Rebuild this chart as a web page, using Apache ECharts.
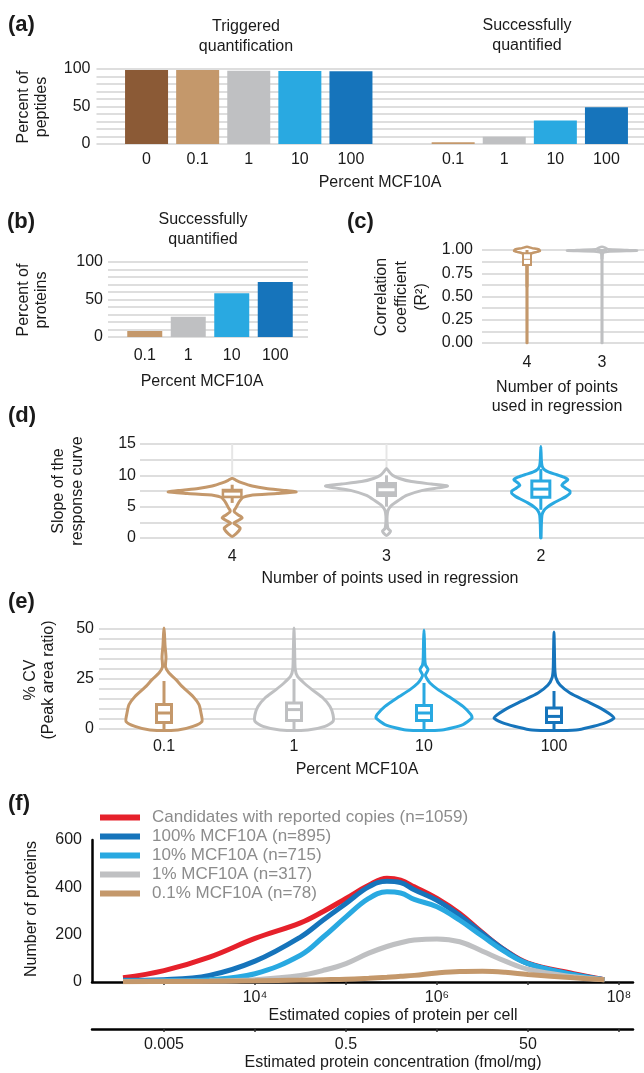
<!DOCTYPE html>
<html><head><meta charset="utf-8">
<script src="https://cdn.jsdelivr.net/npm/echarts@6/dist/echarts.min.js"></script>
<style>html,body{margin:0;padding:0;background:#fff}#c{width:644px;height:1073px}</style>
</head><body><div id="c"></div><script>
// ================= DATA =================
// (a) Percent of peptides
const aCategories = ['0', '0.1', '1', '10', '100', '', '0.1', '1', '10', '100'];
const aValues = [98.7, 98.7, 97.8, 97.3, 96.9, null, 2.2, 9.8, 31.3, 49.1];
// (b) Percent of proteins successfully quantified
const bCategories = ['0.1', '1', '10', '100'];
const bValues = [8.0, 26.9, 58.3, 73.5];
// (c) R^2 violins: [value, density]; boxes: [whiskerLow, q1, median, q3, whiskerHigh]
const cCategories = ['4', '3'];
const cViolin4 = [[0, 0.3], [0.6, 0.3], [0.9, 0.6], [0.95, 2], [0.965, 5], [0.98, 10], [0.99, 13], [1.005, 12], [1.02, 5], [1.035, 0]];
const cViolin3 = [[0, 0.3], [0.9, 0.3], [0.97, 1.2], [0.985, 8], [0.993, 35], [1.0, 25], [1.008, 6], [1.02, 4], [1.035, 0]];
const cBox4 = [0.6, 0.84, 0.9, 0.965, 1.0];
const cBox3 = [0.9, 0.99, 0.995, 1.0, 1.0];
// (d) slope violins
const dCategories = ['4', '3', '2'];
const dViolin4 = [[0.25, 0], [0.7, 4], [1.2, 7], [1.6, 8], [2.0, 5], [2.35, 1.5], [2.8, 6], [3.2, 10], [3.6, 7], [4.1, 2.5], [4.4, 2], [4.9, 4], [5.5, 6], [6.0, 8], [6.5, 11], [6.8, 18], [7.1, 45], [7.35, 64], [7.6, 52], [7.9, 34], [8.3, 20], [8.8, 10], [9.2, 4], [9.55, 0]];
const dViolin3 = [[0.4, 0], [0.8, 3], [1.1, 4], [1.5, 1.5], [2.5, 0.6], [3.5, 0.6], [4.4, 1.5], [5.2, 5], [6.0, 12], [6.8, 20], [7.6, 36], [8.0, 52], [8.3, 61], [8.6, 45], [9.0, 25], [9.5, 13], [10.0, 6], [10.6, 2.5], [11.1, 0]];
const dViolin2 = [[0, 0.2], [2, 0.5], [3.7, 1.2], [4.5, 3.5], [5.0, 7], [5.6, 13], [6.1, 19], [6.6, 25], [7.1, 29], [7.5, 29], [7.9, 25], [8.4, 21], [8.8, 23], [9.3, 27], [9.7, 23], [10.1, 16], [10.5, 8], [10.9, 3.5], [11.5, 1.2], [12.5, 0.5], [14.6, 0]];
const dBox4 = [5.6, 6.6, 7.0, 7.6, 8.5];
const dBox3 = [5.0, 6.8, 7.7, 8.7, 10.0];
const dBox2 = [4.5, 6.5, 7.8, 9.1, 11.0];
// (e) %CV violins
const eCategories = ['0.1', '1', '10', '100'];
const eViolin01 = [[-0.5, 14], [1.3, 29], [3.8, 38], [8, 37], [12.2, 35], [16.3, 29], [21.3, 18], [24.7, 12], [28, 5], [31, 1.5], [36, 2], [42, 1], [48, 0.4], [50.5, 0]];
const eViolin1 = [[-0.5, 14], [1.3, 31], [3.8, 39], [7.2, 39], [11.3, 36], [15.5, 29], [19.7, 18], [23, 10], [26.3, 3.5], [30, 1.2], [40, 0.6], [50.5, 0]];
const eViolin10 = [[-0.5, 18], [2.2, 39], [5.5, 48], [7.2, 47], [11.3, 39], [15.5, 27], [19.7, 14], [23, 6], [25.5, 2.5], [27, 1.5], [29.7, 4], [32, 1.5], [35, 0.8], [45, 0.4], [49.5, 0]];
const eViolin100 = [[-0.5, 22], [2.7, 49], [5.5, 60], [9.7, 49], [13.8, 33], [18, 16], [22, 6], [25.5, 2], [30, 0.8], [40, 0.4], [48.5, 0]];
const eBox01 = [0, 3.3, 8.0, 12.2, 24];
const eBox1 = [0, 4.3, 9.7, 13.0, 25];
const eBox10 = [0, 4.3, 8.0, 11.7, 23];
const eBox100 = [0, 3.3, 6.3, 10.5, 19];
// (f) distributions: x = log10(estimated copies per cell)
const fLogCopies = [2.55, 3, 3.5, 4, 4.5, 4.75, 5, 5.25, 5.45, 5.6, 5.75, 6, 6.25, 6.5, 6.75, 7, 7.5, 7.84];
const fCandidates = [18, 48, 105, 184, 250, 298, 353, 409, 438, 430, 402, 353, 289, 208, 134, 80, 35, 10];
const f100 = [7, 10, 28, 88, 190, 262, 332, 402, 426, 420, 390, 345, 281, 205, 133, 78, 32, 10];
const f10 = [4, 5, 10, 35, 113, 190, 275, 353, 381, 376, 349, 318, 261, 193, 127, 78, 31, 10];
const f1 = [2, 3, 4, 10, 28, 49, 78, 122, 150, 166, 177, 182, 170, 130, 88, 54, 22, 10];
const f01 = [1, 2, 3, 5, 8, 10, 12, 16, 20, 24, 28, 38, 44, 45, 41, 32, 18, 10];
const fSeriesNames = ['Candidates with reported copies (n=1059)', '100% MCF10A (n=895)', '10% MCF10A (n=715)', '1% MCF10A (n=317)', '0.1% MCF10A (n=78)'];
const fCopiesTickLog = [3, 4, 5, 6, 7, 8];
const fCopiesLabelLog = [4, 6, 8];
const fConcLabelValues = [0.005, 0.5, 50];
const copiesPerConc = 2e5; // copies per cell for 1 fmol/mg

// ================= STYLE =================
const FONT = "'Liberation Sans', Arial, Helvetica, sans-serif";
const TXT = '#1a1a1a';
const GRIDC = '#dedede';
const C = { dbrown: '#8B5A36', tan: '#C4986B', gray: '#BFC0C2', lblue: '#29A9E1', dblue: '#1674BB', red: '#E6212B' };
const colorOfPct = { '0': C.dbrown, '0.1': C.tan, '1': C.gray, '10': C.lblue, '100': C.dblue };

const grids = [], xAxes = [], yAxes = [], series = [], graphics = [];
const lab = (extra) => Object.assign({ fontSize: 16, color: TXT, fontFamily: FONT }, extra || {});

function bgGrid(rect, min, max, interval, labelFn, margin) {
  grids.push(rect); const g = grids.length - 1;
  xAxes.push({ gridIndex: g, type: 'value', show: false, min: 0, max: 1 });
  yAxes.push({ gridIndex: g, type: 'value', min, max, interval,
    axisLine: { show: false }, axisTick: { show: false },
    splitLine: { show: true, lineStyle: { color: GRIDC, width: 2 } },
    axisLabel: lab({ margin, formatter: labelFn }) });
}
function plotGrid(rect, cats, min, max, labMargin) {
  grids.push(rect); const g = grids.length - 1;
  xAxes.push({ gridIndex: g, type: 'category', data: cats,
    axisLine: { show: false }, axisTick: { show: false }, splitLine: { show: false },
    axisLabel: lab({ margin: labMargin, interval: 0 }) });
  yAxes.push({ gridIndex: g, type: 'value', min, max, show: false });
  return { x: xAxes.length - 1, y: yAxes.length - 1 };
}
const every = (step, fmt) => (v) => (Math.abs(v / step - Math.round(v / step)) < 1e-6 ? (fmt ? fmt(v) : String(v)) : '');

function violinSeries(ax, profiles, boxes, colors, opt) {
  return {
    type: 'custom', xAxisIndex: ax.x, yAxisIndex: ax.y, silent: true, clip: false,
    data: profiles.map((p, i) => [i]),
    renderItem: (params, api) => {
      const i = api.value(0);
      const prof = profiles[i], box = boxes[i], col = colors[i];
      const band = api.size([1, 0])[0];
      const k = band / opt.bandRef;
      const cx = api.coord([i, opt.min])[0];
      const ch = [];
      if (opt.guide) {
        const p0 = api.coord([i, opt.min]), p1 = api.coord([i, opt.max]);
        ch.push({ type: 'line', shape: { x1: cx, y1: p0[1], x2: cx, y2: p1[1] }, style: { stroke: '#e6e6e6', lineWidth: 2 } });
      }
      const right = prof.map(([v, d]) => [cx + d * k, api.coord([i, v])[1]]);
      let left = prof.slice().reverse().map(([v, d]) => [cx - d * k, api.coord([i, v])[1]]);
      // avoid duplicated apex / base points where width is zero
      if (prof[prof.length - 1][1] === 0) left = left.slice(1);
      if (prof[0][1] === 0) left = left.slice(0, -1);
      ch.push({ type: 'polygon', shape: { points: right.concat(left), smooth: opt.smooth },
        style: { fill: '#fff', stroke: col, lineWidth: opt.lw, lineJoin: 'round' } });
      const [wl, q1, md, q3, wh] = box;
      const y = (v) => api.coord([i, v])[1];
      ch.push({ type: 'line', shape: { x1: cx, y1: y(wl), x2: cx, y2: y(wh) }, style: { stroke: col, lineWidth: opt.whisker } });
      const filled = opt.filled[i];
      const bw = opt.boxW;
      ch.push({ type: 'rect', shape: { x: cx - bw / 2, y: y(q3), width: bw, height: y(q1) - y(q3) },
        style: { fill: filled ? col : '#fff', stroke: col, lineWidth: opt.boxLw } });
      ch.push({ type: 'line', shape: { x1: cx - bw / 2 + 1, y1: y(md), x2: cx + bw / 2 - 1, y2: y(md) },
        style: { stroke: filled ? '#fff' : col, lineWidth: opt.medLw } });
      return { type: 'group', children: ch };
    }
  };
}
function text(t, x, y, o) {
  o = o || {};
  graphics.push({ type: 'text', x, y, rotation: o.rot ? Math.PI / 2 : 0, silent: true,
    style: { text: t, fill: o.fill || TXT, font: (o.bold ? 'bold ' : '') + (o.size || 16) + 'px ' + FONT,
      textAlign: o.align || 'center', textVerticalAlign: 'middle', lineHeight: o.lh || 19 } });
}

// ---------- (a) ----------
bgGrid({ left: 96.5, top: 69, width: 547.5, height: 75 }, 0, 100, 10, every(50), 6);
let ax = plotGrid({ left: 121, top: 69, width: 511, height: 75 }, aCategories, 0, 100, 8);
series.push({ type: 'bar', xAxisIndex: ax.x, yAxisIndex: ax.y, barWidth: 43, silent: true,
  data: aValues.map((v, i) => ({ value: v, itemStyle: { color: colorOfPct[aCategories[i]] } })) });
text('(a)', 8, 25, { bold: true, size: 22, align: 'left' });
text('Triggered\nquantification', 246, 37, { lh: 20 });
text('Successfully\nquantified', 527, 36, { lh: 20 });
text('Percent of\npeptides', 33, 107, { rot: true, lh: 18 });
text('Percent MCF10A', 380, 183);

// ---------- (b) ----------
bgGrid({ left: 108, top: 262, width: 200, height: 75 }, 0, 100, 10, every(50), 5);
ax = plotGrid({ left: 123, top: 262, width: 174, height: 75 }, bCategories, 0, 100, 11);
series.push({ type: 'bar', xAxisIndex: ax.x, yAxisIndex: ax.y, barWidth: 35, silent: true,
  data: bValues.map((v, i) => ({ value: v, itemStyle: { color: colorOfPct[bCategories[i]] } })) });
text('(b)', 7, 222, { bold: true, size: 22, align: 'left' });
text('Successfully\nquantified', 203, 230, { lh: 20 });
text('Percent of\nproteins', 33, 300, { rot: true, lh: 18 });
text('Percent MCF10A', 202, 382);

// ---------- (c) ----------
bgGrid({ left: 482, top: 250, width: 162, height: 93 }, 0, 1, 0.125, every(0.25, (v) => v.toFixed(2)), 9);
ax = plotGrid({ left: 489.5, top: 250, width: 150, height: 93 }, cCategories, 0, 1, 12);
series.push(violinSeries(ax, [cViolin4, cViolin3], [cBox4, cBox3], [C.tan, C.gray],
  { bandRef: 75, min: 0, max: 1, smooth: 0.2, lw: 2.5, whisker: 3, boxW: 8, boxLw: 2, medLw: 1, filled: [false, false], guide: false }));
text('(c)', 347, 222, { bold: true, size: 22, align: 'left' });
text('Correlation\ncoefficient\n(R²)', 402, 297, { rot: true, lh: 20 });
text('Number of points\nused in regression', 557, 397, { lh: 19 });

// ---------- (d) ----------
bgGrid({ left: 140, top: 444, width: 504, height: 94 }, 0, 15, 2.5, every(5), 4);
ax = plotGrid({ left: 155, top: 444, width: 463, height: 94 }, dCategories, 0, 15, 11);
series.push(violinSeries(ax, [dViolin4, dViolin3, dViolin2], [dBox4, dBox3, dBox2], [C.tan, C.gray, C.lblue],
  { bandRef: 154.3, min: 0, max: 15, smooth: 0.2, lw: 3, whisker: 3, boxW: 18, boxLw: 3, medLw: 3, filled: [true, true, false], guide: true }));
text('(d)', 8, 416, { bold: true, size: 22, align: 'left' });
text('Slope of the\nresponse curve', 68, 491, { rot: true, lh: 18.5 });
text('Number of points used in regression', 390, 579);

// ---------- (e) ----------
bgGrid({ left: 99, top: 629, width: 545, height: 100 }, 0, 50, 5, every(25), 5);
ax = plotGrid({ left: 99, top: 629, width: 520, height: 100 }, eCategories, 0, 50, 10);
series.push(violinSeries(ax, [eViolin01, eViolin1, eViolin10, eViolin100], [eBox01, eBox1, eBox10, eBox100], [C.tan, C.gray, C.lblue, C.dblue],
  { bandRef: 130, min: 0, max: 50, smooth: 0.2, lw: 3, whisker: 3, boxW: 15, boxLw: 3, medLw: 3, filled: [false, false, false, false], guide: false }));
text('(e)', 8, 602, { bold: true, size: 22, align: 'left' });
text('% CV\n(Peak area ratio)', 40, 680, { rot: true, lh: 18 });
text('Percent MCF10A', 357, 770);

// ---------- (f) ----------
const fMin = 2.209, fMax = 8.154;
grids.push({ left: 92, top: 840, width: 541, height: 142 });
const gF = grids.length - 1;
const SUP = { '0': '⁰', '1': '¹', '2': '²', '3': '³', '4': '⁴', '5': '⁵', '6': '⁶', '7': '⁷', '8': '⁸', '9': '⁹' };
const blackLine = { show: true, onZero: false, lineStyle: { color: '#000', width: 2.5 } };
xAxes.push({ gridIndex: gF, type: 'value', min: fMin, max: fMax, position: 'bottom',
  axisLine: blackLine, splitLine: { show: false },
  axisTick: { show: true, length: 3, customValues: fCopiesTickLog, lineStyle: { color: '#333', width: 1.5 } },
  axisLabel: lab({ margin: 8, customValues: fCopiesLabelLog, formatter: (v) => '10' + String(Math.round(v)).split('').map(c => SUP[c]).join('') }) });
const xF = xAxes.length - 1;
const lc = Math.log10(copiesPerConc);
xAxes.push({ gridIndex: gF, type: 'value', min: fMin - lc, max: fMax - lc, position: 'bottom', offset: 47,
  axisLine: blackLine, splitLine: { show: false },
  axisTick: { show: true, length: 3, customValues: fCopiesTickLog.map(v => v - lc), lineStyle: { color: '#333', width: 1.5 } },
  axisLabel: lab({ margin: 8, customValues: fConcLabelValues.map(Math.log10), formatter: (v) => String(Number(Math.pow(10, v).toPrecision(1))) }) });
yAxes.push({ gridIndex: gF, type: 'value', min: 0, max: 600, interval: 200,
  axisLine: blackLine, axisTick: { show: false }, splitLine: { show: false },
  axisLabel: lab({ margin: 10 }) });
const yF = yAxes.length - 1;
const fData = [fCandidates, f100, f10, f1, f01];
const fColors = [C.red, C.dblue, C.lblue, C.gray, C.tan];
fData.forEach((arr, k) => {
  series.push({ type: 'line', name: fSeriesNames[k], xAxisIndex: xF, yAxisIndex: yF, smooth: 0.4, showSymbol: false, silent: true,
    color: fColors[k], itemStyle: { color: fColors[k] }, lineStyle: { color: fColors[k], width: 5 },
    data: fLogCopies.map((x, i) => [x, arr[i]]) });
});
text('(f)', 8, 804, { bold: true, size: 22, align: 'left' });
text('Number of proteins', 32, 909, { rot: true });
text('Estimated copies of protein per cell', 393, 1016);
text('Estimated protein concentration (fmol/mg)', 393, 1063);

const chart = echarts.init(document.getElementById('c'), null, { renderer: 'canvas' });
chart.setOption({
  animation: false,
  backgroundColor: '#fff',
  textStyle: { fontFamily: FONT },
  grid: grids.map(g => Object.assign({ containLabel: false }, g)),
  xAxis: xAxes, yAxis: yAxes, series,
  legend: { show: true, data: fSeriesNames, orient: 'vertical', left: 95, top: 804, itemWidth: 40, itemHeight: 6, itemGap: 2,
    icon: 'rect', selectedMode: false,
    textStyle: { color: '#8c8c8c', fontSize: 17, fontFamily: FONT, lineHeight: 17, padding: [0, 0, 0, 7] } },
  graphic: graphics
});
</script></body></html>
